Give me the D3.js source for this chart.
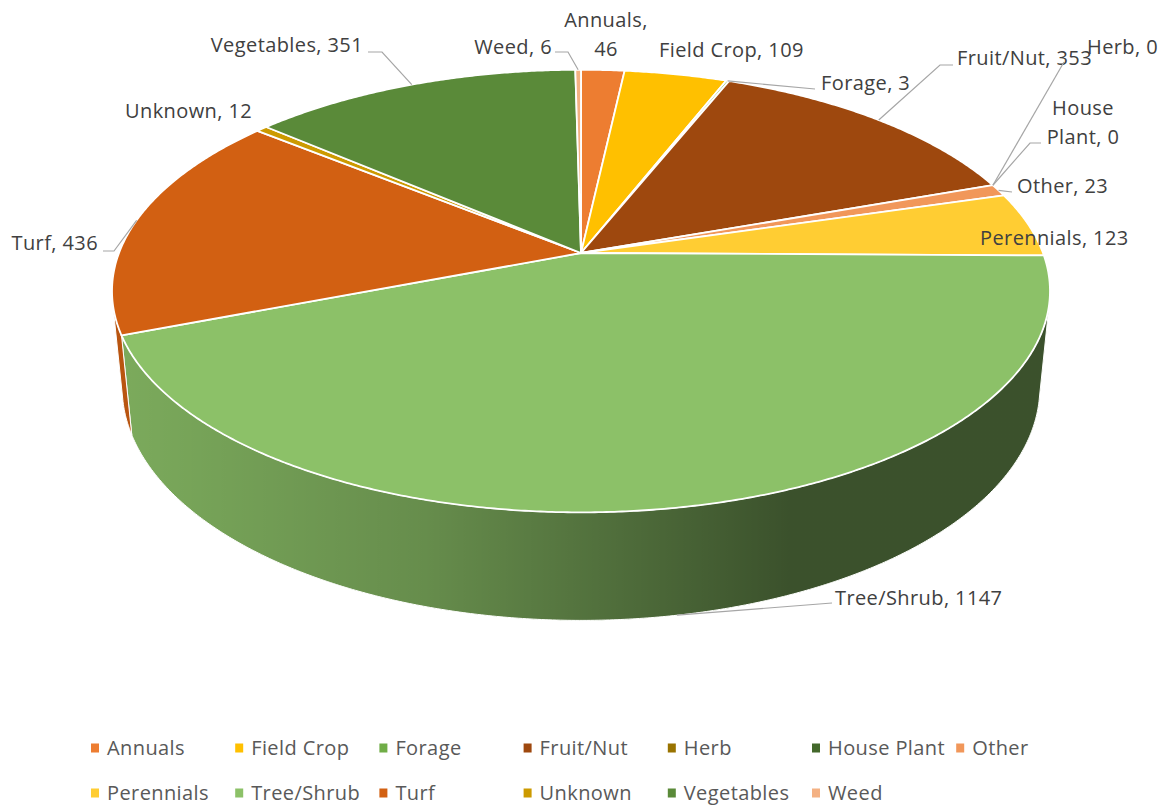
<!doctype html>
<html lang="en">
<head>
<meta charset="UTF-8">
<title>3D Pie</title>
<script src="https://cdnjs.cloudflare.com/ajax/libs/d3/7.8.5/d3.min.js"></script>
<style>
    body { margin: 0; background: #fff; }
    text { font-family: "Open Sans", Lato, sans-serif; letter-spacing: 0.4px; }
</style>
</head>
<body>
<svg id="chart" width="1161" height="806"></svg>
<script>
// data
var categories = ['Annuals', 'Field Crop', 'Forage', 'Fruit/Nut', 'Herb', 'House Plant', 'Other',
    'Perennials', 'Tree/Shrub', 'Turf', 'Unknown', 'Vegetables', 'Weed'];
var values = [46, 109, 3, 353, 0, 0, 23, 123, 1147, 436, 12, 351, 6];

var palette = ['#ED7D31', '#FFC000', '#70AD47', '#9E480E', '#997300', '#43682B', '#F1975A',
    '#FFCD33', '#8CC168', '#D26012', '#CC9A00', '#5A8A39', '#F4B183'];

// label layout: x, y (center), text-anchor, leader bend points (screen), wrap onto 2 lines
var labelLayout = {
    'Annuals':     {x: 606, y: 20, anchor: 'middle', wrap: true},
    'Field Crop':  {x: 659, y: 50, anchor: 'start'},
    'Forage':      {x: 821, y: 83, anchor: 'start', leader: [[815, 89]]},
    'Fruit/Nut':   {x: 957, y: 58, anchor: 'start', leader: [[940, 65], [953, 65]]},
    'Herb':        {x: 1087, y: 47, anchor: 'start', leader: [[1064, 62]]},
    'House Plant': {x: 1083, y: 108, anchor: 'middle', wrap: true, leader: [[1030, 143], [1041, 143]]},
    'Other':       {x: 1017, y: 186, anchor: 'start', leader: [[1012, 192]]},
    'Perennials':  {x: 980, y: 238, anchor: 'start'},
    'Tree/Shrub':  {x: 835, y: 598, anchor: 'start', leader: [[832, 603]], bottom: true},
    'Turf':        {x: 98, y: 243, anchor: 'end', leader: [[114, 251], [103, 251]]},
    'Unknown':     {x: 125, y: 111, anchor: 'start'},
    'Vegetables':  {x: 363, y: 45, anchor: 'end', leader: [[382, 52], [368, 52]]},
    'Weed':        {x: 552, y: 47, anchor: 'end', leader: [[568, 52], [555, 52]]}
};

// 3D view
var view = {cx: 581, cy: 253, k: 462, tilt: 27.7 * Math.PI / 180, dist: 5.15, depth: 0.238};
var sinT = Math.sin(view.tilt), cosT = Math.cos(view.tilt);

function proj(theta, z) {
    var x = Math.sin(theta), y = Math.cos(theta);
    var yc = z * cosT + y * sinT;
    var d = y * cosT - z * sinT;
    var s = view.dist / (view.dist + d);
    return [view.cx + view.k * x * s, view.cy - view.k * yc * s];
}
function projCenter() { return [view.cx, view.cy]; }

function arcPts(a0, a1, z) {
    var n = Math.max(2, Math.ceil((a1 - a0) / (0.4 * Math.PI / 180)));
    var pts = [];
    for (var i = 0; i <= n; i++) pts.push(proj(a0 + (a1 - a0) * i / n, z));
    return pts;
}

var color = d3.scaleOrdinal(categories, palette);
var data = categories.map(function (c, i) { return {name: c, value: values[i]}; });
var arcs = d3.pie().value(function (d) { return d.value; }).sort(null)(data);

var svg = d3.select('#chart');
var line = d3.line();

var defs = svg.append('defs');
var grad = defs.append('linearGradient').attr('id', 'shade')
    .attr('gradientUnits', 'userSpaceOnUse')
    .attr('x1', 125).attr('x2', 790).attr('y1', 0).attr('y2', 0);
grad.append('stop').attr('offset', 0).attr('stop-color', '#000').attr('stop-opacity', 0.12);
grad.append('stop').attr('offset', 0.45).attr('stop-color', '#000').attr('stop-opacity', 0.27);
grad.append('stop').attr('offset', 1).attr('stop-color', '#000').attr('stop-opacity', 0.58);

// visible part of the outer wall
var vis0 = Math.acos(-1 / (view.dist * cosT)), vis1 = 2 * Math.PI - vis0;

var walls = svg.append('g');
arcs.forEach(function (d) {
    var t0 = Math.max(d.startAngle, vis0), t1 = Math.min(d.endAngle, vis1);
    if (t1 <= t0) return;
    var pts = arcPts(t0, t1, 0).concat(arcPts(t0, t1, -view.depth).reverse());
    var p = line(pts) + 'Z';
    walls.append('path').attr('d', p).attr('fill', color(d.data.name));
    walls.append('path').attr('d', p).attr('fill', 'url(#shade)')
        .attr('stroke', '#fff').attr('stroke-width', 1).attr('stroke-linejoin', 'round');
});

var tops = svg.append('g');
arcs.forEach(function (d) {
    if (d.endAngle <= d.startAngle) return;
    var pts = [projCenter()].concat(arcPts(d.startAngle, d.endAngle, 0));
    tops.append('path').attr('d', line(pts) + 'Z')
        .attr('fill', color(d.data.name))
        .attr('stroke', '#fff').attr('stroke-width', 1.8).attr('stroke-linejoin', 'round');
});

// labels + leader lines
var labels = svg.append('g');
arcs.forEach(function (d) {
    var L = labelLayout[d.data.name];
    var mid = (d.startAngle + d.endAngle) / 2;
    if (L.leader) {
        var a = proj(mid, L.bottom ? -view.depth : 0);
        labels.append('path').attr('d', line([a].concat(L.leader)))
            .attr('fill', 'none').attr('stroke', '#a6a6a6').attr('stroke-width', 1.2);
    }
    var txt = d.data.name + ', ' + d.data.value;
    var lines = [txt];
    if (L.wrap) {
        var i = txt.indexOf(' ');
        lines = [txt.slice(0, i), txt.slice(i + 1)];
    }
    var t = labels.append('text')
        .attr('x', L.x).attr('y', L.y)
        .attr('text-anchor', L.anchor)
        .attr('font-size', '20px')
        .attr('fill', '#404040');
    lines.forEach(function (s, j) {
        t.append('tspan').attr('x', L.x).attr('y', L.y + j * 28.5).attr('dy', '0.35em').text(s);
    });
});

// legend
var legend = svg.append('g').attr('class', 'legend');
categories.forEach(function (c, i) {
    var col = i % 7, row = Math.floor(i / 7);
    var x = 91 + col * 144.2, y = 748 + row * 45;
    legend.append('rect').attr('x', x).attr('y', y - 4.5).attr('width', 8).attr('height', 9)
        .attr('fill', color(c));
    legend.append('text').attr('x', x + 16).attr('y', y).attr('dy', '0.35em')
        .attr('font-size', '20px').attr('fill', '#595959').text(c);
});
</script>
</body>
</html>
